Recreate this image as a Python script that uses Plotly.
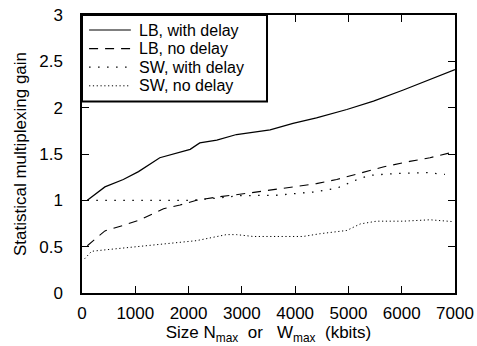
import plotly.graph_objects as go

# ---- data ----
series_names = ["LB, with delay", "LB, no delay", "SW, with delay", "SW, no delay"]

lb_delay_x = [100, 430, 775, 1060, 1460, 1780, 2030, 2210, 2530, 2900, 3530, 3960, 4400, 4970, 5470, 6030, 6530, 7000]
lb_delay_y = [1.00, 1.145, 1.225, 1.31, 1.46, 1.51, 1.55, 1.62, 1.65, 1.71, 1.76, 1.83, 1.89, 1.98, 2.07, 2.19, 2.30, 2.41]

lb_nodelay_x = [100, 430, 775, 1090, 1530, 1840, 2150, 2590, 2960, 3530, 4030, 4400, 4780, 5220, 5650, 6150, 6530, 7000]
lb_nodelay_y = [0.51, 0.67, 0.73, 0.79, 0.91, 0.95, 1.00, 1.04, 1.065, 1.11, 1.15, 1.18, 1.225, 1.29, 1.36, 1.42, 1.46, 1.525]

sw_delay_x = [100, 500, 1000, 1500, 2030, 2460, 2960, 3650, 4340, 4780, 5150, 5400, 5900, 6470, 6810]
sw_delay_y = [1.0, 1.0, 1.0, 1.0, 1.0, 1.02, 1.05, 1.055, 1.09, 1.13, 1.22, 1.27, 1.29, 1.30, 1.28]

sw_nodelay_x = [50, 180, 340, 900, 1530, 2150, 2710, 2900, 3210, 3530, 4150, 4470, 4970, 5220, 5530, 6030, 6530, 6970]
sw_nodelay_y = [0.37, 0.45, 0.46, 0.49, 0.53, 0.565, 0.63, 0.63, 0.61, 0.61, 0.61, 0.64, 0.675, 0.745, 0.775, 0.775, 0.79, 0.77]

x_ticks = [0, 1000, 2000, 3000, 4000, 5000, 6000, 7000]
y_ticks = [0, 0.5, 1, 1.5, 2, 2.5, 3]
y_tick_labels = ["0", "0.5", "1", "1.5", "2", "2.5", "3"]

x_title = "Size N<sub>max</sub>  or   W<sub>max</sub>  (kbits)"
y_title = "Statistical multiplexing gain"

# ---- styles ----
styles = [
    dict(color="black", width=1.2, dash="solid"),
    dict(color="black", width=1.1, dash="9px,7px"),
    dict(color="black", width=1.3, dash="1.5px,7.5px"),
    dict(color="black", width=1.0, dash="1.2px,2.6px"),
]
FONT = "Liberation Sans, Arial, Helvetica, sans-serif"

fig = go.Figure()
data = [(lb_delay_x, lb_delay_y), (lb_nodelay_x, lb_nodelay_y),
        (sw_delay_x, sw_delay_y), (sw_nodelay_x, sw_nodelay_y)]
for (xs, ys), name, st in zip(data, series_names, styles):
    fig.add_trace(go.Scatter(x=xs, y=ys, mode="lines", name=name, line=st,
                             showlegend=False, hoverinfo="skip"))

# ---- hand-built legend (to match the compact row spacing) ----
shapes = [dict(type="rect", xref="paper", yref="paper", x0=0, x1=0.496,
               y0=0.689, y1=1.0, line=dict(color="black", width=2),
               fillcolor="white", layer="above")]
annotations = []
row_y = [0.9460, 0.8791, 0.8122, 0.7453]
for name, st, yy in zip(series_names, styles, row_y):
    shapes.append(dict(type="line", xref="paper", yref="paper", x0=0.019, x1=0.131,
                       y0=yy, y1=yy, line=st, layer="above"))
    annotations.append(dict(xref="paper", yref="paper", x=0.150, y=yy, text=name,
                            showarrow=False, xanchor="left", yanchor="middle",
                            borderpad=0,
                            font=dict(family=FONT, size=16, color="black")))

fig.update_layout(
    width=477, height=346,
    margin=dict(l=82, r=22, t=15, b=53, autoexpand=False),
    paper_bgcolor="white", plot_bgcolor="white",
    font=dict(family=FONT, size=17, color="black"),
    shapes=shapes, annotations=annotations,
    xaxis=dict(range=[0, 7000], tickvals=x_ticks, ticks="inside", ticklen=7,
               tickcolor="black", tickwidth=1, showline=True, linecolor="black",
               linewidth=1.5, mirror="ticks", showgrid=False, zeroline=False,
               ticklabelstandoff=4, automargin=False,
               title=dict(text=x_title, standoff=0, font=dict(size=17))),
    yaxis=dict(range=[0, 3], tickvals=y_ticks, ticktext=y_tick_labels,
               ticks="inside", ticklen=7, tickcolor="black", tickwidth=1,
               showline=True, linecolor="black", linewidth=1.5, mirror="ticks",
               showgrid=False, zeroline=False, ticklabelstandoff=14,
               automargin=False,
               title=dict(text=y_title, standoff=8, font=dict(size=17))),
)

fig.write_html("out.html", config={"displayModeBar": False},
               post_script="document.body.style.margin='0';document.body.style.padding='0';")
